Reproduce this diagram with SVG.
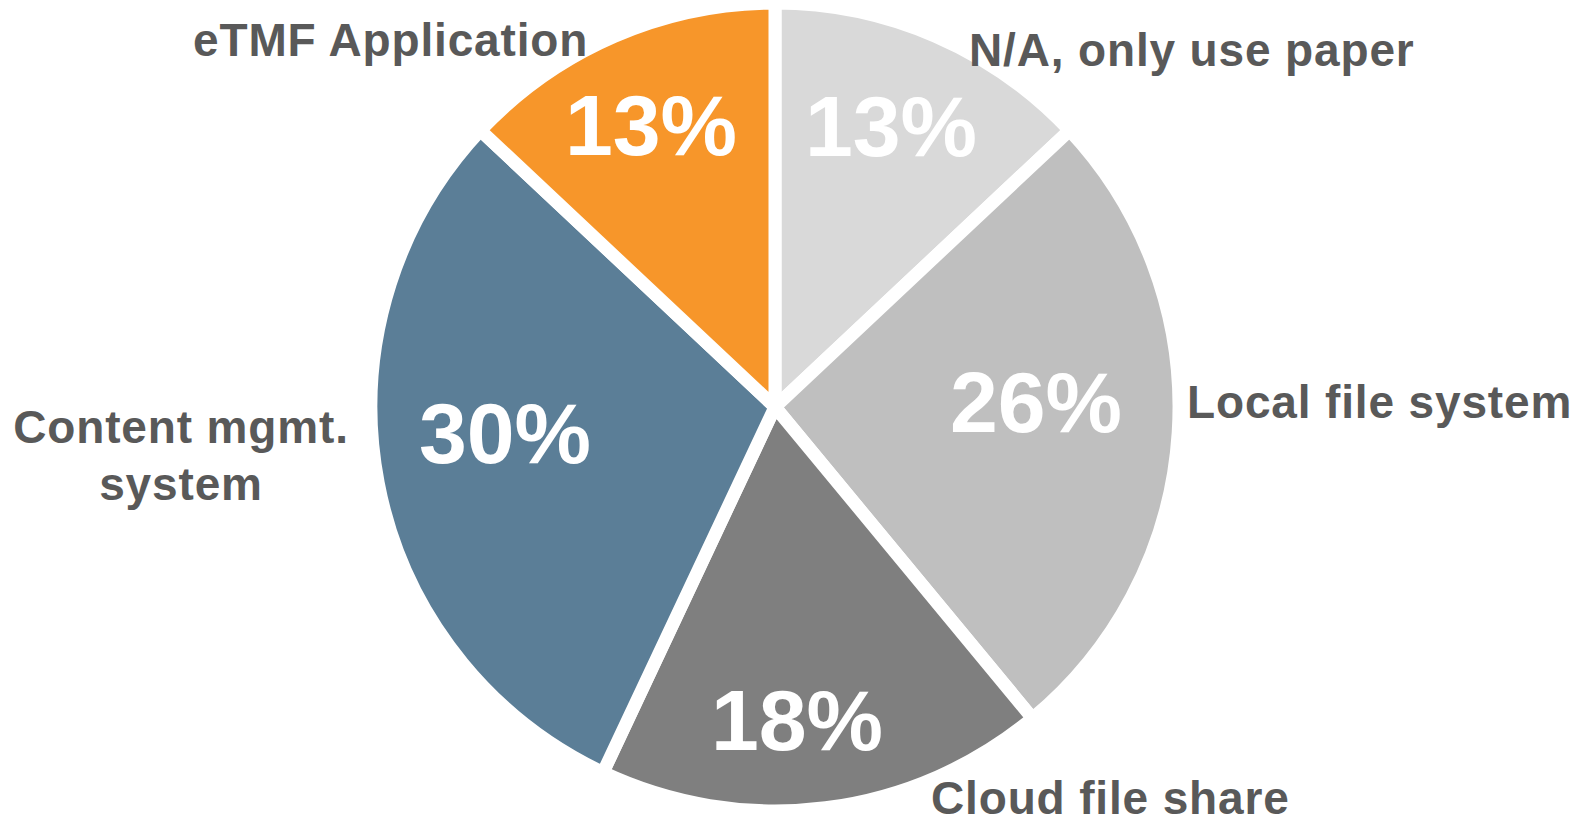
<svg xmlns="http://www.w3.org/2000/svg" width="1579" height="823" viewBox="0 0 1579 823">
  <style>
    .slice { stroke: #ffffff; stroke-width: 13; stroke-linejoin: round; }
    .pct { font-family: "Liberation Sans", Arial, sans-serif; font-weight: bold; font-size: 86px; fill: #ffffff; text-anchor: middle; }
    .cat { font-family: "Liberation Sans", Arial, sans-serif; font-weight: bold; font-size: 46px; letter-spacing: 0.85px; fill: #595959; }
  </style>
  <rect width="1579" height="823" fill="#ffffff"/>

  <!-- pie slices, clockwise from 12 o'clock, centre (775,407) -->
  <g id="slice-na">
    <path class="slice" fill="#D9D9D9" d="M775,407 L775,3 A404,404 0 0 1 1069.5,130.4 Z"/>
    <text class="pct" x="891" y="156">13%</text>
  </g>
  <g id="slice-local">
    <path class="slice" fill="#BFBFBF" d="M775,407 L1069.5,130.4 A404,404 0 0 1 1032.5,718.3 Z"/>
    <text class="pct" x="1036" y="432">26%</text>
  </g>
  <g id="slice-cloud">
    <path class="slice" fill="#7F7F7F" d="M775,407 L1032.5,718.3 A404,404 0 0 1 603,772.5 Z"/>
    <text class="pct" x="797" y="750">18%</text>
  </g>
  <g id="slice-cms">
    <path class="slice" fill="#5B7E97" d="M775,407 L603,772.5 A404,404 0 0 1 480.5,130.4 Z"/>
    <text class="pct" x="505" y="463">30%</text>
  </g>
  <g id="slice-etmf">
    <path class="slice" fill="#F7962A" d="M775,407 L480.5,130.4 A404,404 0 0 1 775,3 Z"/>
    <text class="pct" x="651" y="155">13%</text>
  </g>

  <!-- category labels -->
  <g id="label-na"><text class="cat" x="969" y="66">N/A, only use paper</text></g>
  <g id="label-local"><text class="cat" x="1187" y="418">Local file system</text></g>
  <g id="label-cloud"><text class="cat" x="931" y="814">Cloud file share</text></g>
  <g id="label-cms">
    <text class="cat" x="181" y="443" text-anchor="middle">Content mgmt.</text>
    <text class="cat" x="181" y="500" text-anchor="middle">system</text>
  </g>
  <g id="label-etmf"><text class="cat" x="193" y="56">eTMF Application</text></g>

  <g id="connectors"/>
</svg>
